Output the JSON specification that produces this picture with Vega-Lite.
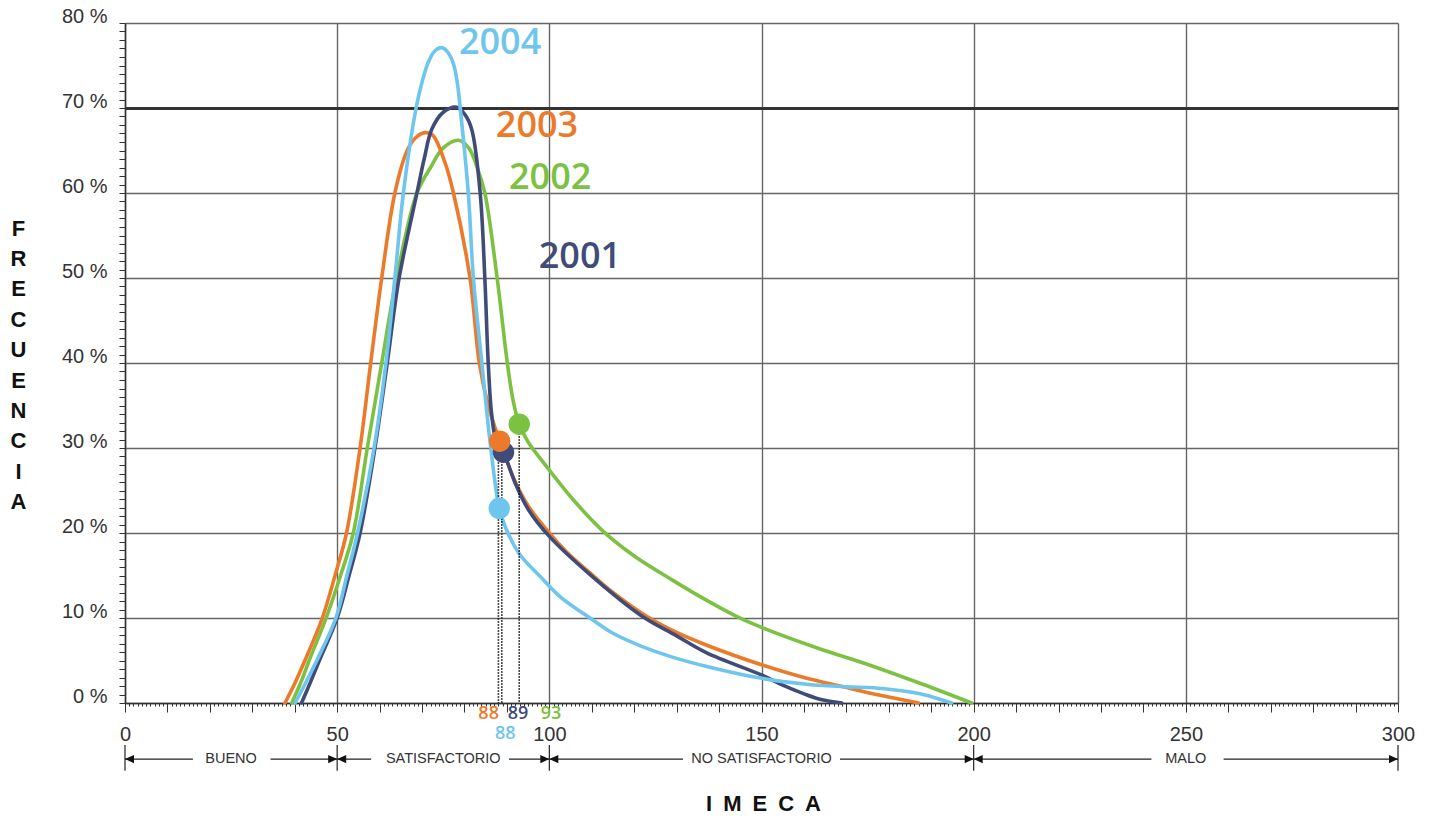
{
  "$schema": "https://vega.github.io/schema/vega-lite/v6.json",
  "width": 1273,
  "height": 680,
  "autosize": {"type": "none"},
  "padding": {"left": 125, "top": 23, "right": 39, "bottom": 118},
  "background": "white",
  "config": {"view": {"stroke": null}, "font": "Liberation Sans"},
  "datasets": {
    "curves": [
      {"year": "2002", "x": 39.3, "y": 0}, {"year": "2002", "x": 41.5, "y": 2.5}, {"year": "2002", "x": 43.4, "y": 5}, {"year": "2002", "x": 47.4, "y": 10}, {"year": "2002", "x": 50.8, "y": 15}, {"year": "2002", "x": 53.8, "y": 20}, {"year": "2002", "x": 57.1, "y": 30}, {"year": "2002", "x": 60.5, "y": 40}, {"year": "2002", "x": 64, "y": 50}, {"year": "2002", "x": 68.8, "y": 60}, {"year": "2002", "x": 72, "y": 63}, {"year": "2002", "x": 75, "y": 65.3}, {"year": "2002", "x": 78.6, "y": 66.2}, {"year": "2002", "x": 81, "y": 65.3}, {"year": "2002", "x": 83, "y": 63}, {"year": "2002", "x": 84.8, "y": 60}, {"year": "2002", "x": 87.7, "y": 50}, {"year": "2002", "x": 90.1, "y": 40}, {"year": "2002", "x": 91.5, "y": 35.5}, {"year": "2002", "x": 92.9, "y": 32.8}, {"year": "2002", "x": 95, "y": 30.7}, {"year": "2002", "x": 97.8, "y": 28.8}, {"year": "2002", "x": 100, "y": 27.4}, {"year": "2002", "x": 106, "y": 23.7}, {"year": "2002", "x": 112.7, "y": 20.2}, {"year": "2002", "x": 120, "y": 17.3}, {"year": "2002", "x": 129.2, "y": 14.4}, {"year": "2002", "x": 137, "y": 12.1}, {"year": "2002", "x": 144.1, "y": 10.2}, {"year": "2002", "x": 150, "y": 8.9}, {"year": "2002", "x": 163, "y": 6.5}, {"year": "2002", "x": 176.4, "y": 4.3}, {"year": "2002", "x": 188, "y": 2.2}, {"year": "2002", "x": 199.5, "y": 0},
      {"year": "2003", "x": 37.7, "y": 0}, {"year": "2003", "x": 40, "y": 2.3}, {"year": "2003", "x": 42.4, "y": 5}, {"year": "2003", "x": 46.5, "y": 10}, {"year": "2003", "x": 49.5, "y": 15}, {"year": "2003", "x": 52.2, "y": 20}, {"year": "2003", "x": 55.4, "y": 30}, {"year": "2003", "x": 57.9, "y": 40}, {"year": "2003", "x": 60.5, "y": 50}, {"year": "2003", "x": 63.6, "y": 60}, {"year": "2003", "x": 66.5, "y": 65}, {"year": "2003", "x": 68.5, "y": 66.5}, {"year": "2003", "x": 70.7, "y": 67.1}, {"year": "2003", "x": 72.5, "y": 66.8}, {"year": "2003", "x": 75.4, "y": 63.6}, {"year": "2003", "x": 77.4, "y": 60}, {"year": "2003", "x": 81.3, "y": 50}, {"year": "2003", "x": 83.5, "y": 40}, {"year": "2003", "x": 85.6, "y": 35}, {"year": "2003", "x": 88.3, "y": 30.8}, {"year": "2003", "x": 92, "y": 26}, {"year": "2003", "x": 95, "y": 23.2}, {"year": "2003", "x": 100, "y": 20}, {"year": "2003", "x": 104, "y": 17.8}, {"year": "2003", "x": 109.6, "y": 15.3}, {"year": "2003", "x": 115, "y": 13}, {"year": "2003", "x": 122.9, "y": 10.2}, {"year": "2003", "x": 130, "y": 8.3}, {"year": "2003", "x": 137.1, "y": 6.8}, {"year": "2003", "x": 150, "y": 4.5}, {"year": "2003", "x": 160, "y": 3}, {"year": "2003", "x": 168.5, "y": 2}, {"year": "2003", "x": 178, "y": 0.9}, {"year": "2003", "x": 187, "y": 0},
      {"year": "2001", "x": 41.6, "y": 0}, {"year": "2001", "x": 43.5, "y": 2.2}, {"year": "2001", "x": 45.8, "y": 5}, {"year": "2001", "x": 50, "y": 10}, {"year": "2001", "x": 52.8, "y": 15}, {"year": "2001", "x": 55.4, "y": 20}, {"year": "2001", "x": 58.9, "y": 30}, {"year": "2001", "x": 61.8, "y": 40}, {"year": "2001", "x": 64.6, "y": 50}, {"year": "2001", "x": 68.8, "y": 60}, {"year": "2001", "x": 70.5, "y": 64}, {"year": "2001", "x": 72.3, "y": 67.5}, {"year": "2001", "x": 75, "y": 69.5}, {"year": "2001", "x": 78.2, "y": 70.1}, {"year": "2001", "x": 80, "y": 69.3}, {"year": "2001", "x": 81.7, "y": 67.5}, {"year": "2001", "x": 83.7, "y": 60}, {"year": "2001", "x": 84.8, "y": 50}, {"year": "2001", "x": 85.6, "y": 40}, {"year": "2001", "x": 86.4, "y": 34}, {"year": "2001", "x": 87.4, "y": 31}, {"year": "2001", "x": 89.2, "y": 29.5}, {"year": "2001", "x": 92, "y": 25.8}, {"year": "2001", "x": 95, "y": 22.8}, {"year": "2001", "x": 100, "y": 19.6}, {"year": "2001", "x": 109.6, "y": 15.1}, {"year": "2001", "x": 121.6, "y": 10.3}, {"year": "2001", "x": 130, "y": 7.9}, {"year": "2001", "x": 137.1, "y": 5.9}, {"year": "2001", "x": 150, "y": 3.3}, {"year": "2001", "x": 155, "y": 2.1}, {"year": "2001", "x": 159.9, "y": 1.1}, {"year": "2001", "x": 164, "y": 0.4}, {"year": "2001", "x": 168.9, "y": 0},
      {"year": "2004", "x": 40.1, "y": 0}, {"year": "2004", "x": 42.5, "y": 2.3}, {"year": "2004", "x": 45.2, "y": 5}, {"year": "2004", "x": 49.7, "y": 10}, {"year": "2004", "x": 52.3, "y": 15}, {"year": "2004", "x": 54.8, "y": 20}, {"year": "2004", "x": 58.7, "y": 30}, {"year": "2004", "x": 61.5, "y": 40}, {"year": "2004", "x": 63.6, "y": 50}, {"year": "2004", "x": 65.6, "y": 60}, {"year": "2004", "x": 68.6, "y": 70}, {"year": "2004", "x": 70.2, "y": 73.4}, {"year": "2004", "x": 71.5, "y": 75.4}, {"year": "2004", "x": 73, "y": 76.7}, {"year": "2004", "x": 74.6, "y": 77.1}, {"year": "2004", "x": 76, "y": 76.6}, {"year": "2004", "x": 77.4, "y": 75.2}, {"year": "2004", "x": 78.3, "y": 73}, {"year": "2004", "x": 79.1, "y": 69.5}, {"year": "2004", "x": 80.9, "y": 60}, {"year": "2004", "x": 82.1, "y": 50}, {"year": "2004", "x": 84.1, "y": 40}, {"year": "2004", "x": 86.2, "y": 30}, {"year": "2004", "x": 88.2, "y": 22.9}, {"year": "2004", "x": 89.8, "y": 20.5}, {"year": "2004", "x": 93, "y": 17.5}, {"year": "2004", "x": 97.8, "y": 14.9}, {"year": "2004", "x": 103, "y": 12.3}, {"year": "2004", "x": 109.6, "y": 10}, {"year": "2004", "x": 115, "y": 8.2}, {"year": "2004", "x": 121.6, "y": 6.7}, {"year": "2004", "x": 129, "y": 5.4}, {"year": "2004", "x": 137.1, "y": 4.3}, {"year": "2004", "x": 150, "y": 2.9}, {"year": "2004", "x": 160.6, "y": 2.2}, {"year": "2004", "x": 170, "y": 1.9}, {"year": "2004", "x": 176.4, "y": 1.8}, {"year": "2004", "x": 182, "y": 1.5}, {"year": "2004", "x": 188.1, "y": 1.0}, {"year": "2004", "x": 194.8, "y": 0}
    ],
    "drops": [
      {"x": 88.0, "y": 30.8}, {"x": 88.8, "y": 29.5}, {"x": 92.9, "y": 32.8}
    ],
    "dots": [
      {"year": "2001", "x": 89.2, "y": 29.5},
      {"year": "2004", "x": 88.2, "y": 22.9},
      {"year": "2003", "x": 88.3, "y": 30.8},
      {"year": "2002", "x": 92.9, "y": 32.8}
    ],
    "years": [
      {"year": "2004", "t": "2004", "x": 88.4, "y": 77.6},
      {"year": "2003", "t": "2003", "x": 97.1, "y": 67.9},
      {"year": "2002", "t": "2002", "x": 100.2, "y": 61.8},
      {"year": "2001", "t": "2001", "x": 107.2, "y": 52.5}
    ],
    "vals": [
      {"year": "2003", "t": "88", "x": 85.7, "y": -1.35},
      {"year": "2001", "t": "89", "x": 92.6, "y": -1.35},
      {"year": "2002", "t": "93", "x": 100.4, "y": -1.35},
      {"year": "2004", "t": "88", "x": 89.6, "y": -3.7}
    ],
    "segs": [
      {"x": 0, "x2": 16}, {"x": 34.3, "x2": 50}, {"x": 50, "x2": 58}, {"x": 90.5, "x2": 100},
      {"x": 100, "x2": 131.5}, {"x": 168.5, "x2": 200}, {"x": 200, "x2": 241.9}, {"x": 258.9, "x2": 300}
    ],
    "bounds": [{"x": 0}, {"x": 50}, {"x": 100}, {"x": 200}, {"x": 300}],
    "arrows": [
      {"dir": "l", "x": 0}, {"dir": "l", "x": 50}, {"dir": "l", "x": 100}, {"dir": "l", "x": 200},
      {"dir": "r", "x": 50}, {"dir": "r", "x": 100}, {"dir": "r", "x": 200}, {"dir": "r", "x": 300}
    ],
    "zones": [
      {"t": "BUENO", "x": 25}, {"t": "SATISFACTORIO", "x": 75}, {"t": "NO SATISFACTORIO", "x": 150}, {"t": "MALO", "x": 250}
    ]
  },
  "layer": [
    {
      "data": {"name": "curves"},
      "mark": {"type": "line", "interpolate": "catmull-rom", "strokeWidth": 3.6, "strokeCap": "round"},
      "encoding": {
        "x": {
          "field": "x", "type": "quantitative",
          "scale": {"domain": [0, 300], "nice": false, "zero": false},
          "axis": {
            "title": "I\u2002M\u2002E\u2002C\u2002A",
            "tickCount": 300,
            "labelExpr": "datum.value % 50 === 0 ? datum.label : ''",
            "labelOverlap": false, "labelFlush": false, "labelBound": false,
            "labelFont": "Liberation Sans", "labelFontSize": 20, "labelColor": "#333",
            "labelPadding": 12,
            "grid": true, "gridColor": "#666", "gridWidth": 1.4,
            "gridOpacity": {"condition": {"test": "datum.value % 50 === 0", "value": 1}, "value": 0},
            "tickColor": "#333", "tickWidth": 1,
            "tickSize": {"condition": {"test": "datum.value % 10 === 0", "value": 9}, "value": 3},
            "domainColor": "#333", "domainWidth": 1.5,
            "titleFont": "Liberation Sans", "titleFontSize": 22, "titleFontWeight": "bold", "titleColor": "#111",
            "titleX": 638, "titleY": 100, "titleAlign": "center", "titleBaseline": "middle", "titleAngle": 0
          }
        },
        "y": {
          "field": "y", "type": "quantitative",
          "scale": {"domain": [0, 80], "nice": false},
          "axis": {
            "title": ["F", "R", "E", "C", "U", "E", "N", "C", "I", "A"],
            "tickCount": 80,
            "labelExpr": "datum.value % 10 === 0 ? datum.value + ' %' : ''",
            "labelOverlap": false, "labelFlush": false, "labelBound": false,
            "labelFont": "Liberation Sans", "labelFontSize": 20, "labelColor": "#333",
            "labelPadding": 12, "labelOffset": -7,
            "tickSize": 6, "tickColor": "#333", "tickWidth": 1,
            "grid": true,
            "gridOpacity": {"condition": {"test": "datum.value % 10 === 0", "value": 1}, "value": 0},
            "gridColor": {"condition": {"test": "datum.value === 70", "value": "#333"}, "value": "#666"},
            "gridWidth": {"condition": {"test": "datum.value === 70", "value": 2.8}, "value": 1.4},
            "domainColor": "#333", "domainWidth": 1.5,
            "titleAngle": 0, "titleX": -107, "titleY": 205, "titleAlign": "center", "titleBaseline": "middle",
            "titleLineHeight": 30.4, "titleFont": "Liberation Sans", "titleFontSize": 22, "titleFontWeight": "bold", "titleColor": "#111"
          }
        },
        "color": {
          "field": "year", "type": "nominal",
          "scale": {"domain": ["2001", "2002", "2003", "2004"], "range": ["#3F4C7A", "#7CC142", "#EB7A2A", "#6EC5EE"]},
          "legend": null
        }
      }
    },
    {
      "data": {"name": "drops"},
      "mark": {"type": "rule", "strokeDash": [1.5, 1.5], "strokeWidth": 1.6, "color": "#111"},
      "encoding": {
        "x": {"field": "x", "type": "quantitative"},
        "y": {"field": "y", "type": "quantitative"},
        "y2": {"datum": 0}
      }
    },
    {
      "data": {"name": "dots"},
      "mark": {"type": "point", "filled": true, "size": 460, "opacity": 1, "shape": "circle"},
      "encoding": {
        "x": {"field": "x", "type": "quantitative"},
        "y": {"field": "y", "type": "quantitative"},
        "color": {"field": "year", "type": "nominal"}
      }
    },
    {
      "data": {"name": "years"},
      "mark": {"type": "text", "font": "Open Sans", "fontSize": 36, "fontWeight": 600, "align": "center", "baseline": "middle"},
      "encoding": {
        "x": {"field": "x", "type": "quantitative"},
        "y": {"field": "y", "type": "quantitative"},
        "text": {"field": "t"},
        "color": {"field": "year", "type": "nominal"}
      }
    },
    {
      "data": {"name": "vals"},
      "mark": {"type": "text", "font": "Open Sans", "fontSize": 18, "fontWeight": 600, "align": "center", "baseline": "middle"},
      "encoding": {
        "x": {"field": "x", "type": "quantitative"},
        "y": {"field": "y", "type": "quantitative"},
        "text": {"field": "t"},
        "color": {"field": "year", "type": "nominal"}
      }
    },
    {
      "data": {"name": "segs"},
      "mark": {"type": "rule", "strokeWidth": 1.2, "color": "#222"},
      "encoding": {
        "x": {"field": "x", "type": "quantitative"},
        "x2": {"field": "x2"},
        "y": {"datum": -6.6}
      }
    },
    {
      "data": {"name": "bounds"},
      "mark": {"type": "rule", "strokeWidth": 1.2, "color": "#222"},
      "encoding": {
        "x": {"field": "x", "type": "quantitative"},
        "y": {"datum": -4.94},
        "y2": {"datum": -7.96}
      }
    },
    {
      "data": {"name": "arrows"},
      "transform": [{"filter": "datum.dir === 'l'"}],
      "mark": {"type": "point", "filled": true, "opacity": 1, "size": 324, "strokeWidth": 0, "color": "#111", "shape": "M0,0L1,-0.45L1,0.45Z"},
      "encoding": {
        "x": {"field": "x", "type": "quantitative"},
        "y": {"datum": -6.6}
      }
    },
    {
      "data": {"name": "arrows"},
      "transform": [{"filter": "datum.dir === 'r'"}],
      "mark": {"type": "point", "filled": true, "opacity": 1, "size": 324, "strokeWidth": 0, "color": "#111", "shape": "M0,0L-1,-0.45L-1,0.45Z"},
      "encoding": {
        "x": {"field": "x", "type": "quantitative"},
        "y": {"datum": -6.6}
      }
    },
    {
      "data": {"name": "zones"},
      "mark": {"type": "text", "font": "Liberation Sans", "fontSize": 14.5, "color": "#333", "align": "center", "baseline": "middle"},
      "encoding": {
        "x": {"field": "x", "type": "quantitative"},
        "y": {"datum": -6.6},
        "text": {"field": "t"}
      }
    }
  ]
}
